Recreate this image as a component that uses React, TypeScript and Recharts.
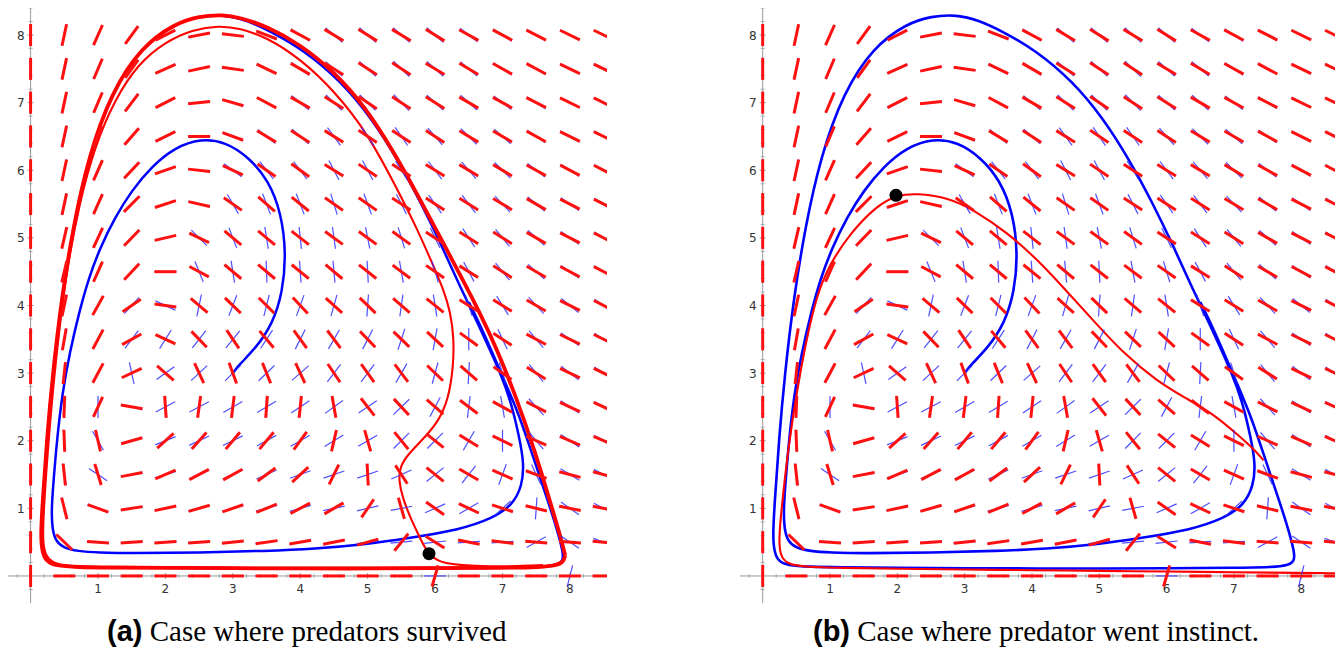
import React from "react"
import { ComposedChart, XAxis, YAxis, Line, Scatter, ReferenceLine } from "recharts"

// grid of the slope field
const GRID_X = [0, 0.5, 1, 1.5, 2, 2.5, 3, 3.5, 4, 4.5, 5, 5.5, 6, 6.5, 7, 7.5, 8, 8.5]
const GRID_Y = [0, 0.5, 1, 1.5, 2, 2.5, 3, 3.5, 4, 4.5, 5, 5.5, 6, 6.5, 7, 7.5, 8]

// angle of each red mark in degrees, one row per GRID_Y value
const RED_ANGLES = [
  [90, 0, 0, 0, 0, 0, 0, 0, 0, 0, 0, 0, 74, 0, 0, 0, 0, 0],
  [90, -44, -4, 4, 4, 4, 6, 8, 10, 11, 16, 51, -32, -11, -7, -5, -5, -5],
  [90, -76, -20, 9, 12, 16, 19, 22, 28, 30, 56, -74, -35, -25, -18, -14, -11, -11],
  [90, -84, -73, 11, 23, 28, 29, 36, 43, 64, -87, -57, -39, -30, -24, -20, -15, -15],
  [90, -88, -77, 16, 42, 48, 50, 50, 54, 77, -74, -51, -39, -32, -26, -24, -23, -23],
  [90, 88, 65, -10, -86, 82, 83, 86, 84, -80, -52, -47, -41, -37, -29, -27, -25, -25],
  [90, 84, 62, 25, -41, -65, -70, -68, -65, -56, -54, -53, -44, -41, -35, -32, -26, -26],
  [90, 80, 62, 29, -25, -46, -56, -50, -54, -53, -46, -44, -43, -36, -33, -28, -26, -26],
  [90, 78, 61, 34, -8, -40, -44, -45, -47, -42, -44, -41, -39, -32, -32, -30, -26, -27],
  [90, 77, 66, 47, 0, -28, -40, -40, -39, -40, -38, -37, -35, -32, -33, -30, -28, -27],
  [90, 77, 65, 46, 13, -26, -40, -40, -38, -36, -36, -36, -33, -32, -32, -30, -27, -27],
  [90, 78, 66, 45, 18, -13, -35, -41, -39, -35, -35, -33, -33, -32, -31, -30, -27, -27],
  [90, 78, 66, 47, 19, -6, -25, -35, -36, -32, -34, -33, -32, -31, -31, -29, -28, -27],
  [90, 78, 67, 49, 26, 0, -20, -31, -33, -32, -34, -33, -33, -31, -30, -29, -26, -26],
  [90, 78, 67, 53, 27, 6, -16, -28, -30, -32, -34, -33, -32, -30, -29, -27, -26, -26],
  [90, 78, 67, 54, 24, 12, -8, -26, -30, -32, -33, -33, -31, -31, -29, -28, -26, -26],
  [90, 78, 66, 54, 27, 11, -7, -21, -28, -31, -32, -31, -32, -29, -28, -27, -26, -26],
]

// angle of each blue mark in degrees
const BLUE_ANGLES = [
  [90, 0, 0, 0, 0, 0, 0, 0, 0, 0, 0, 0, 0, 0, 0, 0, 76, 0],
  [90, -44, -4, 4, 4, 4, 6, 8, 10, 10, 8, 5, 6, 4, 4, 29, -34, -20],
  [90, -76, -20, 9, 12, 15, 16, 15, 16, 12, 13, 11, 24, 30, 42, 86, -35, -28],
  [90, -80, -34, 11, 17, 23, 24, 24, 20, 19, 19, 24, 39, 52, 70, -65, -32, -28],
  [90, -85, -60, 14, 22, 25, 26, 29, 30, 31, 30, 45, 45, 60, 90, -50, -34, -30],
  [90, 88, 90, -14, 28, 28, 30, 31, 34, 36, 34, 44, 62, 83, -80, -48, -34, -30],
  [90, 84, 62, -78, 36, 43, 45, 44, 41, 53, 53, 60, 75, 87, -73, -51, -38, -33],
  [90, 80, 62, 53, 58, 52, 51, 57, 63, 60, 63, 72, 80, 90, -65, -50, -35, -33],
  [90, 78, 61, 48, -25, 78, 69, 76, 70, 74, 86, 82, -81, -72, -58, -47, -39, -34],
  [90, 77, 66, 47, 0, -68, -81, -88, -86, -85, -87, -80, -73, -62, -51, -42, -35, -33],
  [90, 77, 65, 46, 15, -45, -69, -81, -84, -82, -79, -73, -64, -57, -51, -42, -35, -32],
  [90, 78, 66, 45, 18, -15, -60, -69, -69, -73, -70, -63, -55, -53, -47, -40, -35, -32],
  [90, 78, 66, 47, 19, -6, -36, -52, -53, -63, -62, -58, -53, -49, -45, -38, -33, -30],
  [90, 78, 67, 49, 26, 0, -22, -39, -42, -54, -56, -55, -49, -45, -42, -35, -30, -28],
  [90, 78, 67, 53, 27, 6, -16, -30, -40, -44, -45, -46, -42, -42, -38, -33, -28, -27],
  [90, 78, 67, 54, 24, 12, -8, -28, -35, -41, -42, -44, -42, -40, -34, -31, -28, -27],
  [90, 78, 66, 54, 27, 11, -7, -24, -33, -41, -42, -42, -42, -38, -34, -30, -27, -26],
]

const AXIS_TICKS = [1, 2, 3, 4, 5, 6, 7, 8]
const MINOR_TICKS = [
  -0.2, 0.2, 0.4, 0.6, 0.8, 1.2, 1.4, 1.6, 1.8, 2.2, 2.4, 2.6, 2.8, 3.2, 3.4, 3.6, 3.8,
  4.2, 4.4, 4.6, 4.8, 5.2, 5.4, 5.6, 5.8, 6.2, 6.4, 6.6, 6.8, 7.2, 7.4, 7.6, 7.8, 8.2, 8.4,
]

// spiral of the blue system, same in both panels
const BLUE_PATH = [
  { x: 3.0, y: 3.0 }, { x: 3.09, y: 3.12 }, { x: 3.35, y: 3.38 }, { x: 3.59, y: 3.73 },
  { x: 3.74, y: 4.2 }, { x: 3.79, y: 4.77 }, { x: 3.72, y: 5.36 }, { x: 3.53, y: 5.85 },
  { x: 3.23, y: 6.2 }, { x: 2.89, y: 6.42 }, { x: 2.53, y: 6.47 }, { x: 2.14, y: 6.34 },
  { x: 1.79, y: 6.05 }, { x: 1.5, y: 5.7 }, { x: 1.25, y: 5.3 }, { x: 1.03, y: 4.85 },
  { x: 0.86, y: 4.4 }, { x: 0.72, y: 3.9 }, { x: 0.58, y: 3.3 }, { x: 0.47, y: 2.7 },
  { x: 0.39, y: 2.0 }, { x: 0.34, y: 1.4 }, { x: 0.31, y: 1.0 }, { x: 0.32, y: 0.7 },
  { x: 0.37, y: 0.52 }, { x: 0.48, y: 0.42 }, { x: 0.7, y: 0.365 }, { x: 1.0, y: 0.345 },
  { x: 1.5, y: 0.335 }, { x: 2.5, y: 0.345 }, { x: 3.5, y: 0.37 }, { x: 4.2, y: 0.4 },
  { x: 5.0, y: 0.47 }, { x: 5.61, y: 0.56 }, { x: 6.35, y: 0.68 }, { x: 6.85, y: 0.85 },
  { x: 7.15, y: 1.05 }, { x: 7.29, y: 1.33 }, { x: 7.32, y: 1.66 }, { x: 7.25, y: 2.05 },
  { x: 7.12, y: 2.6 }, { x: 6.96, y: 3.02 }, { x: 6.78, y: 3.42 }, { x: 6.58, y: 3.85 },
  { x: 6.36, y: 4.3 }, { x: 6.1, y: 4.88 }, { x: 5.8, y: 5.5 }, { x: 5.45, y: 6.15 },
  { x: 5.05, y: 6.78 }, { x: 4.6, y: 7.32 }, { x: 4.05, y: 7.78 }, { x: 3.55, y: 8.06 },
  { x: 3.2, y: 8.22 }, { x: 2.89, y: 8.3 }, { x: 2.5, y: 8.28 }, { x: 2.14, y: 8.17 },
  { x: 1.64, y: 7.82 }, { x: 1.2, y: 7.15 }, { x: 0.86, y: 6.2 }, { x: 0.63, y: 5.15 },
  { x: 0.46, y: 4.1 }, { x: 0.33, y: 3.0 }, { x: 0.24, y: 2.0 }, { x: 0.18, y: 1.1 },
  { x: 0.15, y: 0.62 }, { x: 0.17, y: 0.36 }, { x: 0.23, y: 0.22 }, { x: 0.36, y: 0.155 },
  { x: 0.7, y: 0.135 }, { x: 1.15, y: 0.13 }, { x: 2.0, y: 0.12 }, { x: 3.0, y: 0.115 },
  { x: 4.12, y: 0.11 }, { x: 5.0, y: 0.11 }, { x: 6.0, y: 0.115 }, { x: 7.0, y: 0.12 },
  { x: 7.58, y: 0.13 }, { x: 7.8, y: 0.155 }, { x: 7.9, y: 0.22 }, { x: 7.9, y: 0.35 },
  { x: 7.8, y: 0.72 }, { x: 7.66, y: 1.15 }, { x: 7.48, y: 1.68 }, { x: 7.25, y: 2.38 },
  { x: 6.98, y: 3.0 }, { x: 6.7, y: 3.65 }, { x: 6.5, y: 4.05 },
]

// panel (a): red run through the dot, then settling on the outer cycle
const RED_A_SPIRAL = [
  { x: 7.6, y: 0.16 }, { x: 7.2, y: 0.145 }, { x: 6.9, y: 0.14 }, { x: 6.6, y: 0.15 },
  { x: 6.37, y: 0.16 }, { x: 6.15, y: 0.19 }, { x: 6.03, y: 0.23 }, { x: 5.93, y: 0.31 },
  { x: 5.85, y: 0.41 }, { x: 5.74, y: 0.64 }, { x: 5.63, y: 0.87 }, { x: 5.52, y: 1.15 },
  { x: 5.46, y: 1.41 }, { x: 5.48, y: 1.62 }, { x: 5.6, y: 1.8 }, { x: 5.8, y: 2.0 },
  { x: 6.05, y: 2.28 }, { x: 6.2, y: 2.62 }, { x: 6.27, y: 3.09 }, { x: 6.28, y: 3.5 },
  { x: 6.23, y: 3.9 }, { x: 6.12, y: 4.25 }, { x: 5.96, y: 4.62 }, { x: 5.74, y: 5.12 },
  { x: 5.45, y: 5.7 }, { x: 5.0, y: 6.55 }, { x: 4.5, y: 7.18 }, { x: 4.0, y: 7.65 },
  { x: 3.5, y: 7.97 }, { x: 3.1, y: 8.1 }, { x: 2.8, y: 8.14 }, { x: 2.4, y: 8.08 },
  { x: 2.0, y: 7.9 }, { x: 1.6, y: 7.58 }, { x: 1.25, y: 7.05 }, { x: 0.95, y: 6.35 },
  { x: 0.72, y: 5.5 }, { x: 0.55, y: 4.6 }, { x: 0.43, y: 3.7 }, { x: 0.33, y: 2.75 },
  { x: 0.25, y: 1.8 }, { x: 0.19, y: 0.9 }, { x: 0.18, y: 0.5 }, { x: 0.22, y: 0.3 },
  { x: 0.32, y: 0.2 }, { x: 0.5, y: 0.155 }, { x: 0.8, y: 0.14 }, { x: 1.15, y: 0.13 },
  { x: 3.0, y: 0.12 }, { x: 5.0, y: 0.12 }, { x: 7.0, y: 0.125 }, { x: 7.58, y: 0.14 },
  { x: 7.8, y: 0.17 }, { x: 7.9, y: 0.22 }, { x: 7.93, y: 0.3 },
]

const RED_A_CYCLE = [
  { x: 7.93, y: 0.3 }, { x: 7.87, y: 0.55 }, { x: 7.72, y: 1.05 }, { x: 7.48, y: 1.85 },
  { x: 7.2, y: 2.65 }, { x: 6.92, y: 3.35 }, { x: 6.66, y: 3.9 }, { x: 6.4, y: 4.4 },
  { x: 6.08, y: 5.0 }, { x: 5.75, y: 5.62 }, { x: 5.4, y: 6.25 }, { x: 4.98, y: 6.92 },
  { x: 4.5, y: 7.46 }, { x: 4.0, y: 7.86 }, { x: 3.5, y: 8.13 }, { x: 3.1, y: 8.26 },
  { x: 2.86, y: 8.3 }, { x: 2.5, y: 8.28 }, { x: 2.14, y: 8.17 }, { x: 1.64, y: 7.82 },
  { x: 1.2, y: 7.15 }, { x: 0.86, y: 6.2 }, { x: 0.63, y: 5.15 }, { x: 0.46, y: 4.1 },
  { x: 0.33, y: 3.0 }, { x: 0.24, y: 2.0 }, { x: 0.18, y: 1.1 }, { x: 0.15, y: 0.62 },
  { x: 0.17, y: 0.36 }, { x: 0.23, y: 0.22 }, { x: 0.36, y: 0.15 }, { x: 0.7, y: 0.13 },
  { x: 1.15, y: 0.125 }, { x: 2.0, y: 0.12 }, { x: 3.0, y: 0.115 }, { x: 4.12, y: 0.11 },
  { x: 5.0, y: 0.11 }, { x: 6.0, y: 0.115 }, { x: 7.0, y: 0.12 }, { x: 7.58, y: 0.13 },
  { x: 7.8, y: 0.155 }, { x: 7.9, y: 0.2 }, { x: 7.93, y: 0.3 },
]

// panel (b): red run that ends on the prey axis
const RED_B = [
  { x: 7.44, y: 1.71 }, { x: 7.29, y: 1.88 }, { x: 7.1, y: 2.05 }, { x: 6.69, y: 2.4 },
  { x: 6.3, y: 2.62 }, { x: 5.86, y: 2.88 }, { x: 5.36, y: 3.29 }, { x: 4.91, y: 3.78 },
  { x: 4.48, y: 4.25 }, { x: 4.08, y: 4.68 }, { x: 3.63, y: 5.08 }, { x: 3.13, y: 5.42 },
  { x: 2.74, y: 5.6 }, { x: 2.29, y: 5.66 }, { x: 1.98, y: 5.63 }, { x: 1.7, y: 5.48 },
  { x: 1.3, y: 5.07 }, { x: 1.0, y: 4.62 }, { x: 0.8, y: 4.15 }, { x: 0.64, y: 3.45 },
  { x: 0.51, y: 2.75 }, { x: 0.38, y: 1.9 }, { x: 0.28, y: 1.0 }, { x: 0.24, y: 0.55 },
  { x: 0.26, y: 0.3 }, { x: 0.36, y: 0.18 }, { x: 0.6, y: 0.135 }, { x: 1.15, y: 0.12 },
  { x: 2.0, y: 0.105 }, { x: 3.0, y: 0.095 }, { x: 4.0, y: 0.085 }, { x: 5.0, y: 0.075 },
  { x: 6.0, y: 0.065 }, { x: 7.0, y: 0.055 }, { x: 8.0, y: 0.045 }, { x: 8.6, y: 0.04 },
]

const DOT_A = [{ x: 5.91, y: 0.33 }]
const DOT_B = [{ x: 1.98, y: 5.63 }]

const fieldData = GRID_Y.flatMap((y, j) =>
  GRID_X.map((x, i) => ({ x, y, red: RED_ANGLES[j][i], blue: BLUE_ANGLES[j][i] }))
)
const xTickData = AXIS_TICKS.map((t) => ({ x: t, y: 0, label: t }))
const yTickData = AXIS_TICKS.map((t) => ({ x: 0, y: t, label: t }))
const xMinorData = MINOR_TICKS.map((t) => ({ x: t, y: 0 }))
const yMinorData = MINOR_TICKS.map((t) => ({ x: 0, y: t }))

function seg(cx: number, cy: number, deg: number, len: number) {
  const r = (deg * Math.PI) / 180
  const dx = (Math.cos(r) * len) / 2
  const dy = (Math.sin(r) * len) / 2
  return { x1: cx - dx, y1: cy + dy, x2: cx + dx, y2: cy - dy }
}

// blue mark underneath, red mark on top
const FieldMark = (props: any) => {
  const { cx, cy, payload } = props
  if (cx == null || cy == null) return null
  return (
    <g>
      <line {...seg(cx, cy, payload.blue, 22)} stroke="#2f2fff" strokeWidth={1.2} strokeOpacity={0.85} />
      <line {...seg(cx, cy, payload.red, 22)} stroke="#ff1010" strokeWidth={3} />
    </g>
  )
}

const tickFont = { fontFamily: "DejaVu Sans", fontSize: 12, fill: "#333" }

const XTick = (props: any) => (
  <g>
    <line x1={props.cx} x2={props.cx} y1={props.cy - 3} y2={props.cy + 3} stroke="#999" />
    <text x={props.cx} y={props.cy + 17} textAnchor="middle" {...tickFont}>
      {props.payload.label}
    </text>
  </g>
)

const YTick = (props: any) => (
  <g>
    <line x1={props.cx - 3} x2={props.cx + 3} y1={props.cy} y2={props.cy} stroke="#999" />
    <text x={props.cx - 6} y={props.cy + 4.5} textAnchor="end" {...tickFont}>
      {props.payload.label}
    </text>
  </g>
)

const XMinor = (props: any) => (
  <line x1={props.cx} x2={props.cx} y1={props.cy - 2} y2={props.cy + 2} stroke="#aaa" />
)
const YMinor = (props: any) => (
  <line x1={props.cx - 2} x2={props.cx + 2} y1={props.cy} y2={props.cy} stroke="#aaa" />
)
const BigDot = (props: any) => <circle cx={props.cx} cy={props.cy} r={6.5} fill="#000" />

function Panel({ left, width, xDomain, children }: any) {
  return (
    <div style={{ position: "absolute", left, top: 0 }}>
      <ComposedChart width={width} height={595} margin={{ top: 0, right: 0, bottom: 0, left: 0 }}>
        <XAxis type="number" dataKey="x" domain={xDomain} allowDataOverflow hide />
        <YAxis type="number" dataKey="y" domain={[-0.4, 8.4]} allowDataOverflow hide />
        <ReferenceLine x={0} stroke="#999" />
        <ReferenceLine y={0} stroke="#999" />
        <Scatter data={xMinorData} shape={XMinor} isAnimationActive={false} />
        <Scatter data={yMinorData} shape={YMinor} isAnimationActive={false} />
        <Scatter data={xTickData} shape={XTick} isAnimationActive={false} />
        <Scatter data={yTickData} shape={YTick} isAnimationActive={false} />
        <Scatter data={fieldData} shape={FieldMark} isAnimationActive={false} />
        {children}
      </ComposedChart>
    </div>
  )
}

const lineProps = { dataKey: "y", type: "basis" as const, dot: false, activeDot: false, isAnimationActive: false }

const captionStyle = { position: "absolute" as const, top: 607, fontSize: 29, whiteSpace: "nowrap" as const }

export default function App() {
  return (
    <div style={{ position: "relative", width: 1335, height: 646 }}>
      <Panel left={0} width={599} xDomain={[-0.335, 8.55]}>
        <Line data={BLUE_PATH} stroke="#0000ff" strokeWidth={2.5} {...lineProps} />
        <Line data={RED_A_CYCLE} stroke="#ff0000" strokeWidth={3.8} {...lineProps} />
        <Line data={RED_A_SPIRAL} stroke="#ff0000" strokeWidth={2.1} {...lineProps} />
        <Scatter data={DOT_A} shape={BigDot} isAnimationActive={false} />
      </Panel>
      <Panel left={732} width={603} xDomain={[-0.337, 8.62]}>
        <Line data={BLUE_PATH} stroke="#0000ff" strokeWidth={2.6} {...lineProps} />
        <Line data={RED_B} stroke="#ff0000" strokeWidth={2.1} {...lineProps} />
        <Scatter data={DOT_B} shape={BigDot} isAnimationActive={false} />
      </Panel>
      <div style={{ ...captionStyle, left: 99 }}>
        <span style={{ fontFamily: "Liberation Sans", fontWeight: 700 }}>(a)</span>
        <span style={{ fontFamily: "Liberation Serif" }}> Case where predators survived</span>
      </div>
      <div style={{ ...captionStyle, left: 805 }}>
        <span style={{ fontFamily: "Liberation Sans", fontWeight: 700 }}>(b)</span>
        <span style={{ fontFamily: "Liberation Serif" }}> Case where predator went instinct.</span>
      </div>
    </div>
  )
}
